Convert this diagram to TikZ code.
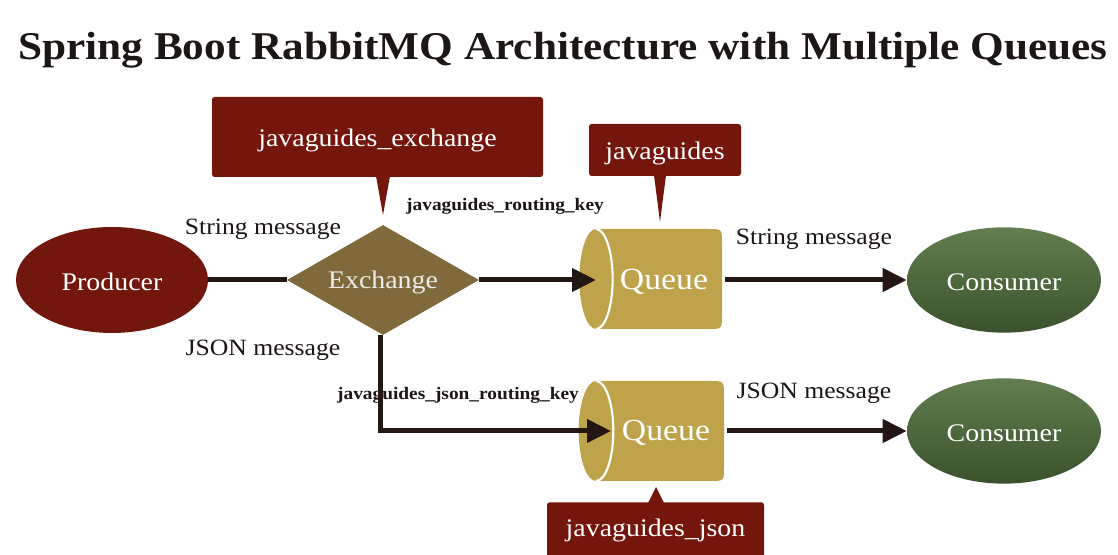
\documentclass[tikz,border=0pt]{standalone}
\usepackage{fontspec}
\setmainfont{Liberation Serif}[FakeStretch=1.1]
\usetikzlibrary{shapes.geometric,arrows.meta}
\definecolor{boxred}{RGB}{117,22,13}
\definecolor{prodred}{RGB}{115,22,14}
\definecolor{exchc}{RGB}{128,106,60}
\definecolor{goldq}{RGB}{191,163,74}
\definecolor{greentop}{RGB}{98,126,80}
\definecolor{greenbot}{RGB}{58,82,44}
\definecolor{linec}{RGB}{36,22,18}
\definecolor{labelc}{RGB}{28,22,20}
\newcommand{\shifttxt}[2]{\raisebox{#1}[\height][\depth]{#2}}
\tikzset{
  lbl/.style={font=\fontsize{17.5pt}{20pt}\selectfont, text=labelc, inner sep=0pt},
  keylbl/.style={font=\bfseries\fontsize{13.2pt}{15pt}\selectfont, text=labelc, inner sep=0pt},
  callout/.style={fill=boxred, rounded corners=2pt, text=white, font=\fontsize{19pt}{22pt}\selectfont, inner sep=0pt},
  ntext/.style={text=white, font=\fontsize{19pt}{22pt}\selectfont, inner sep=0pt},
  qtext/.style={text=white, font=\fontsize{23pt}{26pt}\selectfont, inner sep=0pt},
  conn/.style={draw=linec, line width=3.75pt},
  arr/.style={conn, -{Triangle[length=18pt,width=17pt]}},
}
\begin{document}
\begin{tikzpicture}[x=0.75pt,y=-0.75pt]
\useasboundingbox (0,0) rectangle (1118,555);
\fill[white] (0,0) rectangle (1118,555);

% title
\node[anchor=base, text=labelc, inner sep=0pt] (title) at (563,60)
  {\resizebox{817pt}{!}{\bfseries Spring Boot RabbitMQ Architecture with Multiple Queues}};

% labels
\node[lbl] (smsg1) at (263,229) {String message};
\node[lbl] (jmsg1) at (263,350) {JSON message};
\node[keylbl] (rk1) at (505,206) {javaguides\_routing\_key};
\node[keylbl] (rk2) at (458,395) {javaguides\_json\_routing\_key};
\node[lbl] (smsg2) at (814,239) {String message};
\node[lbl] (jmsg2) at (814,393) {JSON message};

% callouts
\node[callout, minimum width=248.25pt, minimum height=60pt] (bx1) at (377.5,137) {\shifttxt{-2.5pt}{javaguides\_exchange}};
\fill[boxred] (376,176) -- (390,176) -- (383,215) -- cycle;
\node[callout, minimum width=114pt, minimum height=39pt] (bx2) at (665,150) {\shifttxt{-2.5pt}{javaguides}};
\fill[boxred] (654,175) -- (666,175) -- (660,222) -- cycle;
\node[callout, minimum width=162.75pt, minimum height=45pt, anchor=north] (bx3) at (655.5,502) {\shifttxt{1pt}{javaguides\_json}};
\fill[boxred] (648,503) -- (664,503) -- (656,487) -- cycle;

% producer, exchange, consumers
\node[ellipse, fill=prodred, minimum width=144pt, minimum height=79.5pt, ntext] (prod) at (112,280) {\shifttxt{-1.5pt}{Producer}};
\node[diamond, fill=exchc, minimum width=144pt, minimum height=82.5pt, aspect=1.745, ntext, text=white!92!black] (exch) at (383,280) {\shifttxt{-2pt}{Exchange}};
\node[ellipse, top color=greentop, bottom color=greenbot, minimum width=145.5pt, minimum height=79pt, ntext] (cons1) at (1004,280) {\shifttxt{-1.5pt}{Consumer}};
\node[ellipse, top color=greentop, bottom color=greenbot, minimum width=145.5pt, minimum height=79pt, ntext] (cons2) at (1004,431) {\shifttxt{-1.5pt}{Consumer}};

% queue 1
\fill[goldq] (596,229) -- (708,229) .. controls (722,229) and (722,229) .. (722,243)
  -- (722,315) .. controls (722,329) and (722,329) .. (708,329) -- (596,329) -- cycle;
\fill[goldq] (596,279) ellipse [x radius=12.5pt, y radius=37.5pt];
\draw[white, line width=1.6pt] (596,229) arc[start angle=90, end angle=-90, x radius=12.5pt, y radius=37.5pt];
\node[qtext] (q1) at (664,281) {\shifttxt{-1pt}{Queue}};
\coordinate (q1in) at (596,280);
\coordinate (q1out) at (725,280);

% queue 2
\fill[goldq] (596,381) -- (710,381) .. controls (724,381) and (724,381) .. (724,395)
  -- (724,467) .. controls (724,481) and (724,481) .. (710,481) -- (596,481) -- cycle;
\fill[goldq] (596,431) ellipse [x radius=13pt, y radius=37.5pt];
\draw[white, line width=1.6pt] (596,381) arc[start angle=90, end angle=-90, x radius=13pt, y radius=37.5pt];
\node[qtext] (q2) at (666,432) {\shifttxt{-1pt}{Queue}};
\coordinate (q2in) at (611,431);
\coordinate (q2out) at (727,431);

% connectors
\draw[conn] (prod.east) -- (exch.west);
\draw[arr] (exch.east) -- (q1in);
\draw[arr] ([xshift=-2.25pt]exch.south) |- (q2in);
\draw[arr] (q1out) -- (cons1.west);
\draw[arr] (q2out) -- (cons2.west);
\end{tikzpicture}
\end{document}
